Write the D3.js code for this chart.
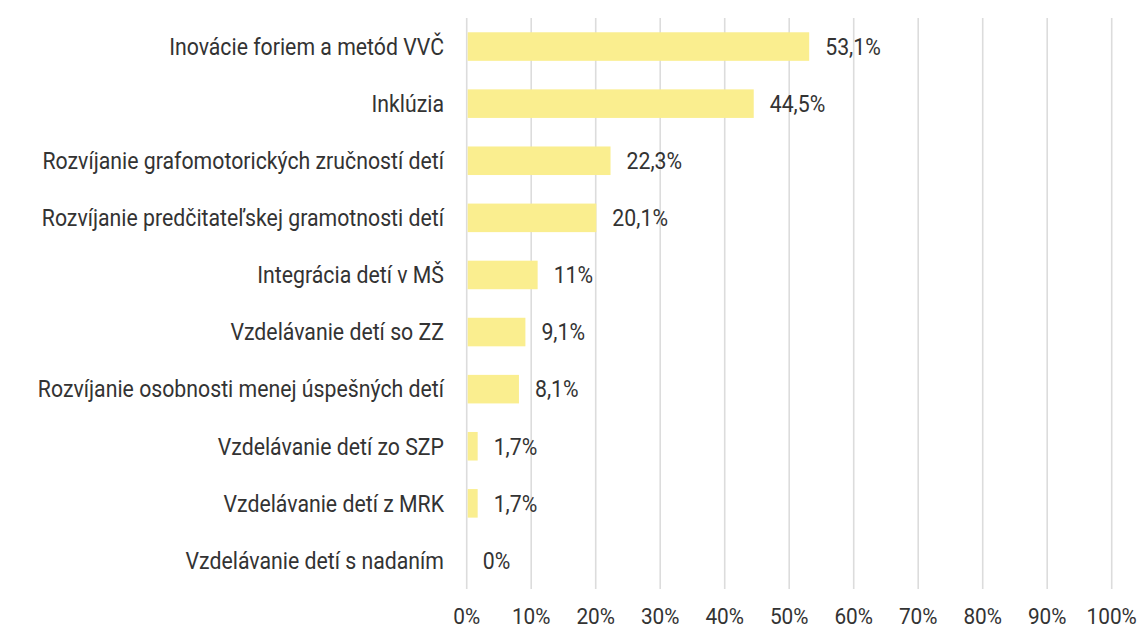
<!DOCTYPE html>
<html><head><meta charset="utf-8">
<script src="https://cdn.jsdelivr.net/npm/d3@7"></script>
<style>body{margin:0;background:#fff}svg{display:block}</style>
</head><body>
<script>
const categories = [
  "Inovácie foriem a metód VVČ",
  "Inklúzia",
  "Rozvíjanie grafomotorických zručností detí",
  "Rozvíjanie predčitateľskej gramotnosti detí",
  "Integrácia detí v MŠ",
  "Vzdelávanie detí so ZZ",
  "Rozvíjanie osobnosti menej úspešných detí",
  "Vzdelávanie detí zo SZP",
  "Vzdelávanie detí z MRK",
  "Vzdelávanie detí s nadaním"
];
const values = [53.1, 44.5, 22.3, 20.1, 11, 9.1, 8.1, 1.7, 1.7, 0];
const tickValues = [0,10,20,30,40,50,60,70,80,90,100];

const W = 1139, H = 630;
const FONT = "Roboto, 'Liberation Sans', sans-serif";
const SX = 0.925;
const FS = 23;
const svg = d3.select("body").append("svg").attr("width", W).attr("height", H);

const x = d3.scaleLinear().domain([0,100]).range([466.7, 1111.7]);
const y = d3.scaleBand().domain(categories).range([18, 589]).paddingInner(0.5).paddingOuter(0.25);

const fmt = v => String(v).replace(".", ",") + "%";

// gridlines
svg.append("g").selectAll("line").data(tickValues).join("line")
  .attr("x1", d => x(d)).attr("x2", d => x(d))
  .attr("y1", 18).attr("y2", 589)
  .attr("stroke", "#dcdcdc").attr("stroke-width", 1.6);

// bars
svg.append("g").selectAll("rect").data(values).join("rect")
  .attr("x", x(0) + 1).attr("y", (d,i) => y(categories[i]))
  .attr("width", d => Math.max(0, x(d) - x(0) - 1))
  .attr("height", y.bandwidth())
  .attr("fill", "#faee8f");

function condText(g, tx, ty, anchor, txt, fs) {
  g.append("text")
    .attr("transform", `translate(${tx},${ty}) scale(${SX},1)`)
    .attr("text-anchor", anchor)
    .attr("dominant-baseline", "central")
    .attr("font-family", FONT).attr("font-size", fs || FS).attr("fill", "#333")
    .text(txt);
}

const gl = svg.append("g");
categories.forEach(c => condText(gl, 444, y(c) + y.bandwidth()/2, "end", c));

const gv = svg.append("g");
values.forEach((v,i) => condText(gv, x(v) + 16, y(categories[i]) + y.bandwidth()/2, "start", fmt(v)));

const gt = svg.append("g");
tickValues.forEach(t => condText(gt, x(t), 616.5, "middle", t + "%", 22.5));
</script>
</body></html>
